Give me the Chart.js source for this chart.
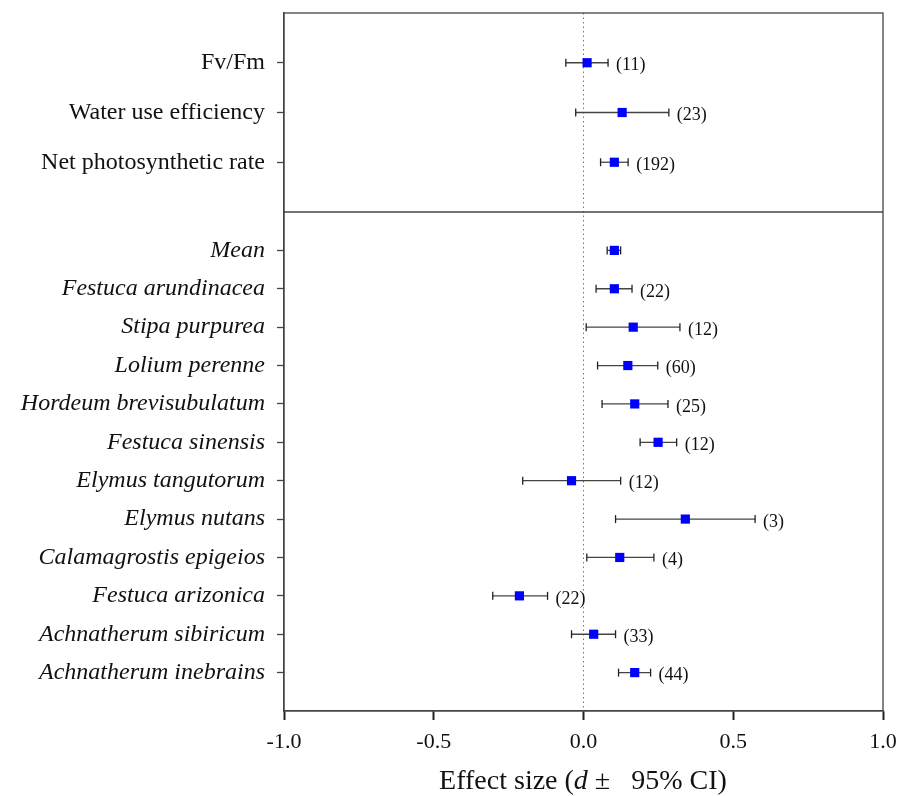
<!DOCTYPE html>
<html>
<head>
<meta charset="utf-8">
<script src="https://cdn.jsdelivr.net/npm/chart.js@4.4.1/dist/chart.umd.min.js"></script>
<style>
    body { margin: 0; background: #fff; }
    #wrap { position: relative; width: 899px; height: 796px; }
    #axisTitle {
        position: absolute; left: 333px; width: 500px; top: 764px;
        text-align: center; font-family: 'Liberation Serif', serif; font-size: 28px; color: #111;
        white-space: pre; line-height: 32px;
    }
</style>
</head>
<body>
<div id="wrap">
    <canvas id="forestChart"></canvas>
    <div id="axisTitle">Effect size (<i>d</i> ±   95% CI)</div>
</div>
<script>
// Panel superior: variables fisiológicas
const topNames = ['Fv/Fm', 'Water use efficiency', 'Net photosynthetic rate'];
const topMean = [0.012, 0.129, 0.103];
const topLow = [-0.059, -0.026, 0.057];
const topHigh = [0.082, 0.285, 0.149];
const topN = ['(11)', '(23)', '(192)'];

// Panel inferior: especies
const species = ['Mean', 'Festuca arundinacea', 'Stipa purpurea', 'Lolium perenne',
    'Hordeum brevisubulatum', 'Festuca sinensis', 'Elymus tangutorum', 'Elymus nutans',
    'Calamagrostis epigeios', 'Festuca arizonica', 'Achnatherum sibiricum', 'Achnatherum inebrains'];
const spMean = [0.103, 0.103, 0.166, 0.148, 0.171, 0.249, -0.040, 0.340, 0.121, -0.214, 0.034, 0.171];
const spLow = [0.079, 0.042, 0.009, 0.047, 0.062, 0.189, -0.203, 0.107, 0.011, -0.303, -0.040, 0.117];
const spHigh = [0.124, 0.162, 0.322, 0.248, 0.282, 0.311, 0.124, 0.573, 0.235, -0.120, 0.107, 0.224];
const spN = ['', '(22)', '(12)', '(60)', '(25)', '(12)', '(12)', '(3)', '(4)', '(22)', '(33)', '(44)'];

const xTicks = [-1.0, -0.5, 0.0, 0.5, 1.0];

const serif = "'Liberation Serif', 'Times New Roman', serif";

// Una serie por cada intervalo de confianza
function ciDatasets(low, high, axis) {
    return low.map((lo, i) => ({
        type: 'line',
        data: [{ x: lo, y: i + 1 }, { x: high[i], y: i + 1 }],
        yAxisID: axis,
        borderColor: '#444',
        borderWidth: 1.3,
        pointStyle: 'line',
        pointRotation: 90,
        pointRadius: 4,
        pointBorderColor: '#222',
        pointBorderWidth: 1.3,
        order: 1
    }));
}

function meanDataset(mean, axis) {
    return {
        type: 'scatter',
        data: mean.map((m, i) => ({ x: m, y: i + 1 })),
        yAxisID: axis,
        pointStyle: 'rect',
        pointRadius: 6.5,
        backgroundColor: '#0000ff',
        borderColor: '#0000ff',
        borderWidth: 0,
        order: 0
    };
}

// Marco, separador y etiquetas (n)
const framePlugin = {
    id: 'frame',
    afterDatasetsDraw(chart) {
        const ctx = chart.ctx;
        const a = chart.chartArea;
        const yTop = chart.scales.yTop;
        const x = chart.scales.x;
        ctx.save();
        ctx.strokeStyle = '#444';
        ctx.lineWidth = 1.3;
        ctx.strokeRect(a.left, a.top, a.right - a.left, a.bottom - a.top);
        ctx.beginPath();
        ctx.moveTo(a.left, yTop.bottom);
        ctx.lineTo(a.right, yTop.bottom);
        ctx.stroke();

        ctx.fillStyle = '#111';
        ctx.font = '18px ' + serif;
        ctx.textBaseline = 'middle';
        const drawCounts = (high, labels, scale) => {
            labels.forEach((t, i) => {
                if (!t) return;
                ctx.fillText(t, x.getPixelForValue(high[i]) + 8, scale.getPixelForValue(i + 1) + 3);
            });
        };
        drawCounts(topHigh, topN, yTop);
        drawCounts(spHigh, spN, chart.scales.yBot);
        ctx.restore();
    }
};

function rowAxis(names, italic, weight, stackW) {
    return {
        type: 'linear',
        position: 'left',
        stack: 'rows',
        stackWeight: stackW,
        weight: weight,
        reverse: true,
        min: 0,
        max: names.length + 1,
        afterBuildTicks: (s) => { s.ticks = names.map((n, i) => ({ value: i + 1 })); },
        afterFit: (s) => { s.width = 284; s.paddingTop = 0; s.paddingBottom = 0; },
        grid: { drawOnChartArea: false, drawTicks: true, tickLength: 7, tickColor: '#444', tickWidth: 1.3 },
        border: { color: '#444', width: 1.3 },
        ticks: {
            autoSkip: false,
            padding: 12,
            color: '#111',
            font: { family: serif, size: 24, style: italic ? 'italic' : 'normal' },
            callback: (v) => names[v - 1] || ''
        }
    };
}

const ctx = document.getElementById('forestChart');
new Chart(ctx, {
    data: {
        datasets: [
            meanDataset(topMean, 'yTop'),
            meanDataset(spMean, 'yBot'),
            ...ciDatasets(topLow, topHigh, 'yTop'),
            ...ciDatasets(spLow, spHigh, 'yBot')
        ]
    },
    options: {
        responsive: true,
        maintainAspectRatio: false,
        animation: false,
        layout: { padding: { top: 13, right: 16, left: 0, bottom: 0 } },
        plugins: {
            legend: { display: false },
            tooltip: { enabled: false }
        },
        scales: {
            x: {
                type: 'linear',
                min: -1,
                max: 1,
                afterBuildTicks: (s) => { s.ticks = xTicks.map(v => ({ value: v })); },
                afterFit: (s) => { s.height = 85; s.paddingLeft = 0; s.paddingRight = 0; },
                grid: {
                    color: (c) => (c.tick && c.tick.value === 0) ? '#777' : 'rgba(0,0,0,0)',
                    lineWidth: 1,
                    drawTicks: true,
                    tickLength: 9,
                    tickColor: '#222',
                    tickWidth: 2
                },
                border: { color: '#444', width: 1.3, dash: [1.5, 3] },
                ticks: {
                    padding: 9,
                    color: '#111',
                    font: { family: serif, size: 22 },
                    callback: (v) => v.toFixed(1)
                }
            },
            yTop: rowAxis(topNames, false, 2, 199),
            yBot: rowAxis(species, true, 1, 499)
        }
    },
    plugins: [framePlugin]
});
</script>
</body>
</html>
